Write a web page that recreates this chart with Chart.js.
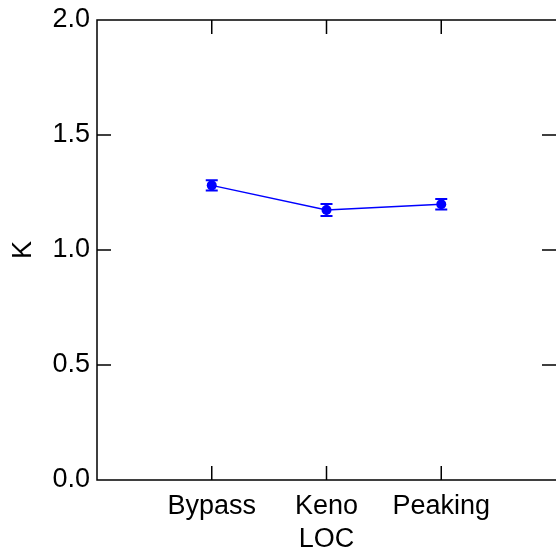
<!DOCTYPE html>
<html>
<head>
<meta charset="utf-8">
<script src="https://cdn.jsdelivr.net/npm/chart.js@4"></script>
<style>
  html, body { margin: 0; padding: 0; background: #fff; }
  #wrap { width: 556px; height: 557px; }
</style>
</head>
<body>
<div id="wrap"><canvas id="k_chart" width="556" height="557"></canvas></div>
<script>
// Chart data
const categories = ["Bypass", "Keno", "Peaking"];
const positions = [1, 2, 3];
const kValues = [1.281, 1.174, 1.199];
const kErrors = [0.022, 0.026, 0.023];
const yTicks = [0, 0.5, 1.0, 1.5, 2.0];

// Frame with inward ticks on all four sides
const framePlugin = {
  id: "frame",
  afterDraw(chart) {
    const { ctx, chartArea: a, scales } = chart;
    const len = 14;
    ctx.save();
    ctx.strokeStyle = "#000";
    ctx.lineWidth = 1.5;
    ctx.beginPath();
    ctx.moveTo(a.right, a.top);
    ctx.lineTo(a.left, a.top);
    ctx.lineTo(a.left, a.bottom);
    ctx.lineTo(a.right, a.bottom);
    yTicks.forEach((v) => {
      const y = scales.y.getPixelForValue(v);
      ctx.moveTo(a.left, y);
      ctx.lineTo(a.left + len, y);
      ctx.moveTo(a.right, y);
      ctx.lineTo(a.right - len, y);
    });
    positions.forEach((p) => {
      const x = scales.x.getPixelForValue(p);
      ctx.moveTo(x, a.bottom);
      ctx.lineTo(x, a.bottom - len);
      ctx.moveTo(x, a.top);
      ctx.lineTo(x, a.top + len);
    });
    ctx.stroke();
    ctx.restore();
  },
};

// Vertical error bars with caps
const errorBarPlugin = {
  id: "errorBars",
  afterDatasetsDraw(chart) {
    const { ctx, scales } = chart;
    ctx.save();
    ctx.strokeStyle = "#0000ff";
    ctx.lineWidth = 2;
    positions.forEach((p, i) => {
      const x = scales.x.getPixelForValue(p);
      const yTop = scales.y.getPixelForValue(kValues[i] + kErrors[i]);
      const yBot = scales.y.getPixelForValue(kValues[i] - kErrors[i]);
      ctx.beginPath();
      ctx.moveTo(x, yTop);
      ctx.lineTo(x, yBot);
      ctx.moveTo(x - 6, yTop);
      ctx.lineTo(x + 6, yTop);
      ctx.moveTo(x - 6, yBot);
      ctx.lineTo(x + 6, yBot);
      ctx.stroke();
    });
    ctx.restore();
  },
};

const font = { family: "'Liberation Sans', Arial, sans-serif", size: 27 };

new Chart(document.getElementById("k_chart").getContext("2d"), {
  type: "line",
  data: {
    datasets: [
      {
        label: "K",
        data: positions.map((p, i) => ({ x: p, y: kValues[i] })),
        borderColor: "#0000ff",
        backgroundColor: "#0000ff",
        borderWidth: 1.5,
        pointRadius: 5,
        pointBorderWidth: 0,
        pointBackgroundColor: "#0000ff",
      },
    ],
  },
  options: {
    responsive: false,
    animation: false,
    layout: { autoPadding: false, padding: { top: 20, right: 0, left: 0, bottom: 0 } },
    plugins: {
      legend: { display: false },
      tooltip: { enabled: false },
    },
    scales: {
      x: {
        type: "linear",
        min: 0,
        max: 4,
        afterBuildTicks: (axis) => {
          axis.ticks = positions.map((p) => ({ value: p }));
        },
        afterFit: (axis) => {
          axis.height = 77;
          axis.paddingLeft = 0;
          axis.paddingRight = 0;
        },
        ticks: {
          color: "#000",
          font: font,
          padding: 10,
          maxRotation: 0,
          callback: (v) => categories[positions.indexOf(v)] ?? "",
        },
        grid: { display: false, drawTicks: false },
        border: { display: false },
        title: {
          display: true,
          text: "LOC",
          color: "#000",
          font: font,
          padding: { top: 0, bottom: 1 },
        },
      },
      y: {
        min: 0,
        max: 2,
        afterBuildTicks: (axis) => {
          axis.ticks = yTicks.map((v) => ({ value: v }));
        },
        afterFit: (axis) => {
          axis.width = 97;
          axis.paddingTop = 0;
          axis.paddingBottom = 0;
        },
        ticks: {
          color: "#000",
          font: font,
          padding: 7,
          callback: (v) => v.toFixed(1),
        },
        grid: { display: false, drawTicks: false },
        border: { display: false },
        title: {
          display: true,
          text: "K",
          color: "#000",
          font: font,
          padding: { top: 7, bottom: 0 },
        },
      },
    },
  },
  plugins: [framePlugin, errorBarPlugin],
});
</script>
</body>
</html>
